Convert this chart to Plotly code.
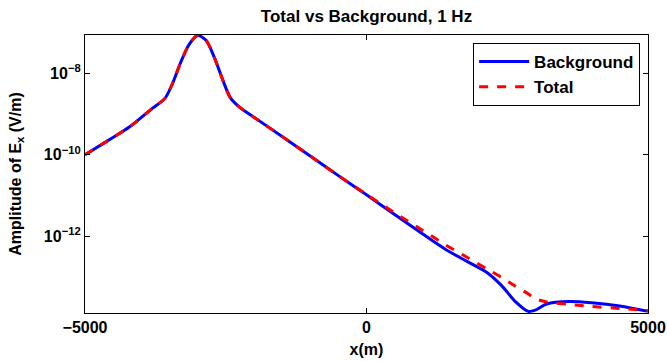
import plotly.graph_objects as go

# Horizontal position along the profile (m)
x_m = [-5000, -4600, -4200, -3800, -3580, -3450, -3300, -3150, -3000, -2850,
       -2700, -2550, -2420, -2250, -2000, -1500, -1000, -500, 0, 500,
       1000, 1400, 1800, 2150, 2400, 2650, 2870, 3000, 3200, 3600,
       4000, 4500, 5000]

# log10 of |Ex| (V/m)
log10_background = [-10.00, -9.66, -9.31, -8.86, -8.62, -8.27, -7.74, -7.30, -7.08, -7.20,
                    -7.63, -8.18, -8.60, -8.84, -9.08, -9.55, -10.03, -10.51, -10.98, -11.46,
                    -11.94, -12.31, -12.62, -12.89, -13.20, -13.60, -13.83, -13.80, -13.65, -13.59,
                    -13.62, -13.70, -13.83]
log10_total = [-10.00, -9.66, -9.31, -8.86, -8.62, -8.27, -7.74, -7.30, -7.08, -7.20,
               -7.63, -8.18, -8.60, -8.84, -9.08, -9.55, -10.03, -10.51, -10.97, -11.42,
               -11.85, -12.20, -12.52, -12.80, -13.00, -13.22, -13.40, -13.52, -13.60, -13.66,
               -13.71, -13.76, -13.81]

background = [10 ** v for v in log10_background]
total = [10 ** v for v in log10_total]

x_tickvals = [-5000, 0, 5000]
x_ticktext = ["\u22125000", "0", "5000"]
y_tickvals = [1e-12, 1e-10, 1e-8]
y_ticktext = ["10<sup>\u221212</sup>", "10<sup>\u221210</sup>", "10<sup>\u22128</sup>"]

FONT = "Liberation Sans, Arial, Helvetica, sans-serif"

fig = go.Figure()
fig.add_trace(go.Scatter(
    x=x_m, y=background, mode="lines", name="Background",
    line=dict(color="#0000ff", width=3, shape="spline", smoothing=0.8)))
fig.add_trace(go.Scatter(
    x=x_m, y=total, mode="lines", name="Total",
    line=dict(color="#ff0000", width=3, dash="dash", shape="spline", smoothing=0.8)))

fig.update_layout(
    width=667, height=361,
    margin=dict(l=85, r=19, t=35, b=48, autoexpand=False),
    paper_bgcolor="white", plot_bgcolor="white",
    font=dict(family=FONT, color="black", size=15),
    title=dict(text="<b>Total vs Background, 1 Hz</b>", x=0.5, xref="paper",
               xanchor="center", y=1 - 16 / 361, yanchor="middle",
               font=dict(family=FONT, size=17, color="black")),
    showlegend=True,
    legend=dict(x=0.986, y=0.971, xanchor="right", yanchor="top",
                bgcolor="white", bordercolor="black", borderwidth=1,
                font=dict(family=FONT, size=17, color="black", weight="bold"),
                itemwidth=50, tracegroupgap=0),
)

fig.update_xaxes(
    range=[-5000, 5000], tickvals=x_tickvals, ticktext=x_ticktext,
    showline=True, linecolor="black", linewidth=1.3, mirror="ticks",
    ticks="inside", ticklen=5, tickcolor="black", showgrid=False, zeroline=False,
    tickfont=dict(family=FONT, size=16, color="black", weight="bold"),
    title=dict(text="<b>x(m)</b>", standoff=8, font=dict(family=FONT, size=16, color="black")),
    automargin=False,
)
fig.update_yaxes(
    type="log", range=[-13.87, -7.07], tickvals=y_tickvals, ticktext=y_ticktext,
    showline=True, linecolor="black", linewidth=1.3, mirror="ticks",
    ticks="inside", ticklen=5, tickcolor="black", showgrid=False, zeroline=False,
    tickfont=dict(family=FONT, size=16, color="black", weight="bold"),
    title=dict(text="<b>Amplitude of E<sub>x</sub> (V/m)</b>", standoff=18,
               font=dict(family=FONT, size=16, color="black")),
    automargin=False,
)

fig.write_html("out.html")
